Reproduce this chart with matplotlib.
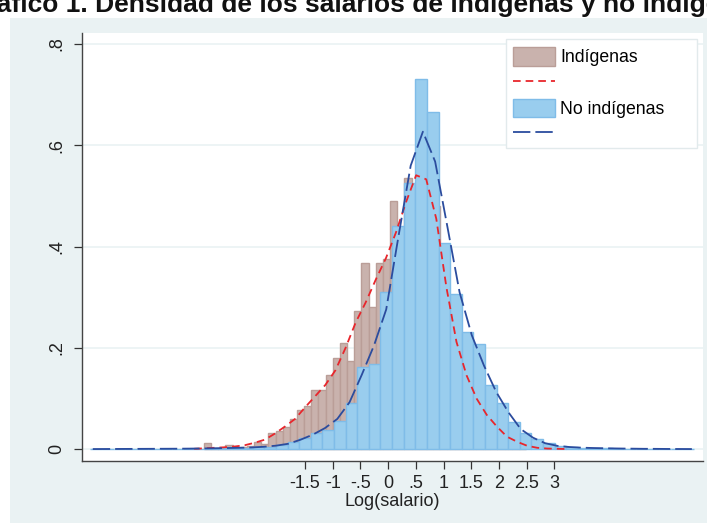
import matplotlib
matplotlib.use("Agg")
import matplotlib.pyplot as plt
import numpy as np
from matplotlib.patches import Rectangle, Patch
from matplotlib.lines import Line2D

plt.rcParams['font.family'] = ['Liberation Sans', 'DejaVu Sans']
plt.rcParams['lines.scale_dashes'] = False

# ---- Histogram: indígenas (narrow bins) ----
ind_bin_start = -3.325
ind_bin_width = 0.1292
ind_heights = [
    0.012, 0.002, 0.002, 0.009, 0.003, 0.004, 0.006, 0.015, 0.011,
    0.033, 0.036, 0.045, 0.059, 0.078, 0.085, 0.118, 0.118, 0.147,
    0.180, 0.209, 0.175, 0.274, 0.367, 0.281, 0.367, 0.375, 0.490,
    0.430, 0.535, 0.520, 0.550, 0.520, 0.480, 0.360, 0.250, 0.190,
    0.140, 0.100, 0.070, 0.050, 0.030, 0.020, 0.010, 0.006, 0.003,
]

# ---- Histogram: no indígenas (wide bins) ----
noind_bin_start = -5.374
noind_bin_width = 0.2094
noind_heights = [
    0.0005, 0.0005, 0.0005, 0.0005, 0.0005, 0.0005, 0.0008, 0.0008,
    0.001, 0.001, 0.002, 0.002, 0.003, 0.003, 0.004, 0.005, 0.0085,
    0.015, 0.023, 0.0315, 0.039, 0.056, 0.091, 0.162, 0.168, 0.311,
    0.440, 0.525, 0.731, 0.665, 0.408, 0.306, 0.232, 0.208, 0.126,
    0.091, 0.053, 0.032, 0.020, 0.013, 0.006, 0.004, 0.003, 0.002,
    0.002, 0.001, 0.001, 0.001, 0.0008, 0.0008, 0.0005, 0.0005,
]

# ---- Kernel density: indígenas ----
ind_kx = [
    -3.500, -3.318, -3.136, -2.954, -2.772, -2.590, -2.408, -2.226,
    -2.044, -1.862, -1.680, -1.498, -1.316, -1.134, -0.952, -0.770,
    -0.588, -0.406, -0.224, -0.042, 0.140, 0.322, 0.504, 0.686,
    0.868, 1.050, 1.232, 1.414, 1.596, 1.778, 1.960, 2.142,
    2.324, 2.506, 2.688, 2.870, 3.052, 3.234,
]
ind_ky = [
    0.001, 0.002, 0.003, 0.004, 0.0055, 0.008, 0.013, 0.019,
    0.031, 0.045, 0.060, 0.083, 0.105, 0.127, 0.156, 0.200,
    0.250, 0.290, 0.335, 0.377, 0.428, 0.488, 0.541, 0.533,
    0.455, 0.320, 0.212, 0.146, 0.100, 0.068, 0.045, 0.025,
    0.015, 0.007, 0.003, 0.0015, 0.001, 0.0005,
]

# ---- Kernel density: no indígenas ----
noind_kx = [
    -5.330, -5.109, -4.888, -4.668, -4.447, -4.227, -4.006, -3.786,
    -3.565, -3.345, -3.124, -2.903, -2.683, -2.462, -2.242, -2.021,
    -1.800, -1.580, -1.359, -1.139, -0.918, -0.697, -0.477, -0.256,
    -0.036, 0.185, 0.406, 0.626, 0.847, 1.067, 1.288, 1.509,
    1.729, 1.950, 2.170, 2.391, 2.612, 2.832, 3.053, 3.273,
    3.494, 3.715, 3.935, 4.156, 4.376, 4.597, 4.818, 5.038,
    5.259, 5.479,
]
noind_ky = [
    0.0005, 0.0006, 0.0007, 0.0008, 0.0009, 0.0010, 0.0011, 0.0012,
    0.0014, 0.0017, 0.0020, 0.0025, 0.0030, 0.0037, 0.0050, 0.0072,
    0.011, 0.019, 0.029, 0.042, 0.060, 0.093, 0.147, 0.205,
    0.276, 0.420, 0.560, 0.627, 0.568, 0.440, 0.310, 0.225,
    0.165, 0.113, 0.073, 0.040, 0.023, 0.012, 0.0068, 0.0045,
    0.0032, 0.0025, 0.0020, 0.0016, 0.0013, 0.0010, 0.0009, 0.0007,
    0.0006, 0.0005,
]

x_ticks = [-1.5, -1, -0.5, 0, 0.5, 1, 1.5, 2, 2.5, 3]
x_ticklabels = ['-1.5', '-1', '-.5', '0', '.5', '1', '1.5', '2', '2.5', '3']
y_ticks = [0, 0.2, 0.4, 0.6, 0.8]
y_ticklabels = ['0', '.2', '.4', '.6', '.8']

title = 'Gráfico 1. Densidad de los salarios de indígenas y no indígenas'

# ---- styling ----
BG = '#EAF2F3'
BROWN_FILL = '#C9B2AD'
BROWN_EDGE = '#BA9E98'
BLUE_FILL = '#99CDEE'
BLUE_EDGE = '#7FBCE8'
RED = '#E8262C'
NAVY = '#2B4C9E'

W, H = 707, 523
fig = plt.figure(figsize=(W / 100, H / 100), dpi=100, facecolor='white')

def fx(px):
    return px / W

def fy(py):
    return (H - py) / H

# graph region background
fig.patches.append(Rectangle((fx(10), 0), 1, fy(18), transform=fig.transFigure,
                             facecolor=BG, edgecolor='none', zorder=-10))

ax = fig.add_axes([fx(81.7), fy(460.7), fx(703) - fx(81.7), fy(33) - fy(460.7)])
ax.set_facecolor('white')

def draw_hist(start, width, heights, fc, ec, z):
    edges = start + width * np.arange(len(heights))
    ax.bar(edges, heights, width=width, align='edge', color=fc,
           edgecolor=ec, linewidth=1.0, zorder=z)

draw_hist(ind_bin_start, ind_bin_width, ind_heights, BROWN_FILL, BROWN_EDGE, 2)
draw_hist(noind_bin_start, noind_bin_width, noind_heights, BLUE_FILL, BLUE_EDGE, 3)

ax.plot(ind_kx, ind_ky, color=RED, lw=1.3, linestyle=(0, (5.5, 3.6)), zorder=4)
ax.plot(noind_kx, noind_ky, color=NAVY, lw=1.3, linestyle=(0, (12.5, 3.6)), zorder=5)

ax.set_xlim(-5.53, 5.68)
ax.set_ylim(-0.0225, 0.8218)

ax.set_yticks(y_ticks)
ax.set_yticklabels(y_ticklabels, rotation=90, va='center')
ax.set_xticks(x_ticks)
ax.set_xticklabels(x_ticklabels)
ax.tick_params(axis='both', labelsize=13, length=5.5, width=0.9, color='#333333',
               labelcolor='#222222')
ax.tick_params(axis='y', pad=6)
ax.tick_params(axis='x', pad=4.5)
ax.yaxis.grid(True, color=BG, lw=1.2, zorder=1)
ax.set_axisbelow(True)

for side in ('top', 'right'):
    ax.spines[side].set_visible(False)
for side in ('left', 'bottom'):
    ax.spines[side].set_color('#444444')
    ax.spines[side].set_linewidth(1.0)

ax.set_xlabel('Log(salario)', fontsize=13, color='#222222', labelpad=1)

# legend frame
fig.patches.append(Rectangle((fx(505.7), fy(148.3)), fx(697.3) - fx(505.7),
                             fy(39.3) - fy(148.3), transform=fig.transFigure,
                             facecolor='white', edgecolor='#E2EAEC', lw=1.0, zorder=9))

handles = [
    Patch(facecolor=BROWN_FILL, edgecolor=BROWN_EDGE),
    Line2D([], [], color=RED, lw=1.3, linestyle=(0, (5.5, 3.6))),
    Patch(facecolor=BLUE_FILL, edgecolor=BLUE_EDGE),
    Line2D([], [], color=NAVY, lw=1.3, linestyle=(0, (12.5, 3.6))),
]
labels = ['Indígenas', ' ', 'No indígenas', ' ']
leg = fig.legend(handles, labels, loc='upper left',
                 bbox_to_anchor=(fx(512.5), fy(47.5)),
                 fontsize=12.7, frameon=False,
                 handlelength=2.4, handleheight=1.2, handletextpad=0.3,
                 labelspacing=0.38, borderpad=0.0, borderaxespad=0.0)
leg.set_zorder(10)

fig.text(0.517, fy(12), title, ha='center', va='baseline',
         fontsize=19, fontweight='bold', color='#111111')

fig.savefig('out.png', dpi=100, facecolor='white')
